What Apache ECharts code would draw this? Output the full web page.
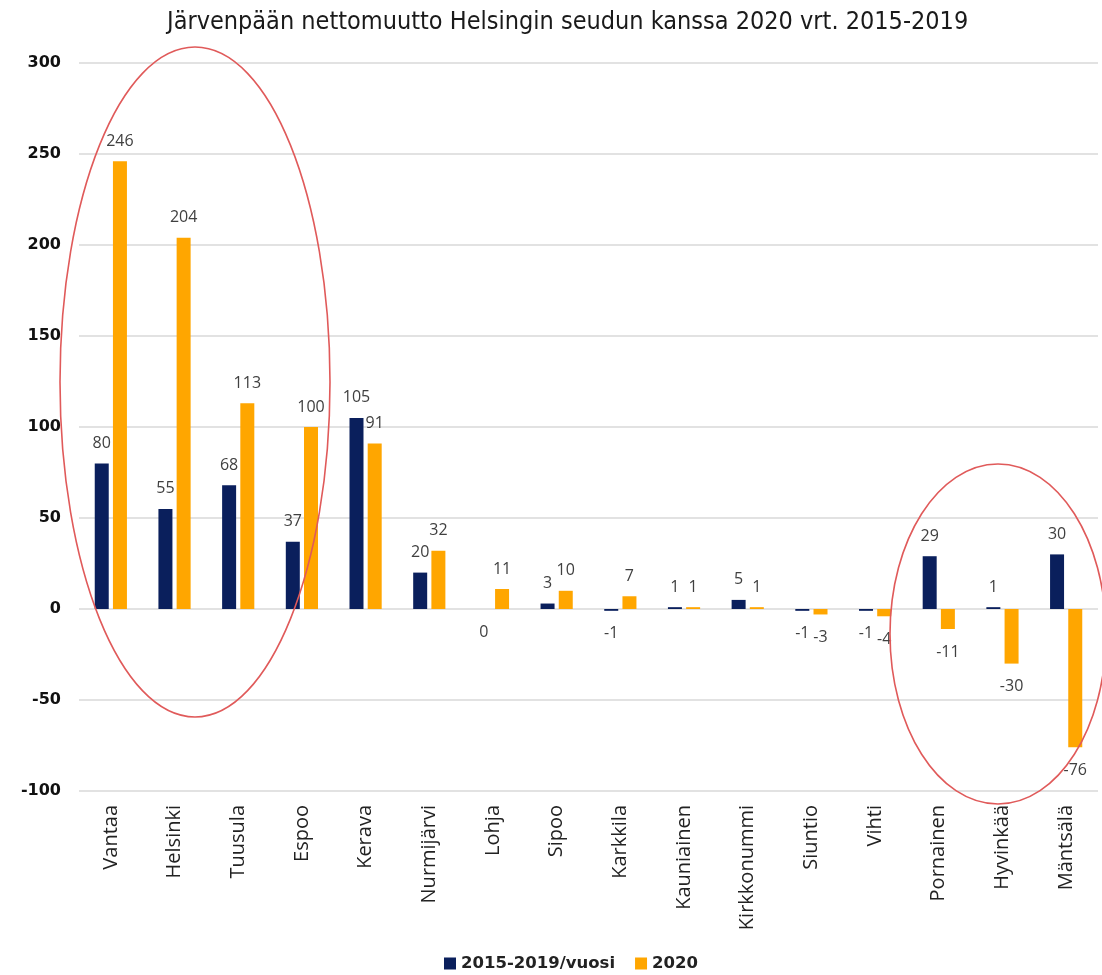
<!DOCTYPE html>
<html><head><meta charset="utf-8">
<script src="https://cdn.jsdelivr.net/npm/echarts@6/dist/echarts.min.js"></script>
<style>html,body{margin:0;padding:0;background:#fff}#c{width:1102px;height:975px}</style>
</head><body><div id="c"></div>
<script>
const categories = ['Vantaa','Helsinki','Tuusula','Espoo','Kerava','Nurmijärvi','Lohja','Sipoo','Karkkila','Kauniainen','Kirkkonummi','Siuntio','Vihti','Pornainen','Hyvinkää','Mäntsälä'];
const avg20152019 = [80,55,68,37,105,20,0,3,-1,1,5,-1,-1,29,1,30];
const year2020 = [246,204,113,100,91,32,11,10,7,1,1,-3,-4,-11,-30,-76];
const yTicks = [-100,-50,0,50,100,150,200,250,300];
const seriesNames = ['2015-2019/vuosi','2020'];

const labelFont = {fontFamily:'Open Sans', fontSize:16, color:'#404040'};
function toData(arr){
  return arr.map(v => ({value:v, label: v<=0 ? {position:'bottom', distance:15} : {position:'top', distance:12}}));
}
const chart = echarts.init(document.getElementById('c'));
chart.setOption({
  animation:false,
  title:{text:'Järvenpään nettomuutto Helsingin seudun kanssa 2020 vrt. 2015-2019', left:162, top:5,
    textStyle:{fontFamily:'DejaVu Sans Condensed', fontSize:25, fontWeight:'normal', color:'#1a1a1a'}},
  grid:{left:79, right:4, top:63, bottom:184},
  legend:{top:950, left:439, itemWidth:12, itemHeight:12, itemGap:20, icon:'rect',
    textStyle:{fontFamily:'DejaVu Sans', fontWeight:'bold', fontSize:16.5, color:'#222'}},
  xAxis:{type:'category', data:categories, axisLine:{show:false}, axisTick:{show:false},
    axisLabel:{rotate:90, margin:14, interval:0, fontFamily:'Open Sans', fontSize:20, color:'#222'}},
  yAxis:{type:'value', min:yTicks[0], max:yTicks[yTicks.length-1], interval:50,
    axisLine:{show:false}, axisTick:{show:false},
    axisLabel:{margin:18, fontFamily:'DejaVu Sans', fontWeight:'bold', fontSize:16, color:'#111'},
    splitLine:{lineStyle:{color:'#d9d9d9', width:1.5}}},
  series:[
    {name:seriesNames[0], type:'bar', data:toData(avg20152019), barWidth:14, barGap:'30%',
     itemStyle:{color:'#0a1f5c'}, label:{show:true, ...labelFont}},
    {name:seriesNames[1], type:'bar', data:toData(year2020), barWidth:14,
     itemStyle:{color:'#ffa600'}, label:{show:true, ...labelFont}}
  ],
  graphic:[
    {type:'ellipse', shape:{cx:195, cy:382, rx:135, ry:335}, style:{fill:'none', stroke:'#e05a5a', lineWidth:1.6}, z:100},
    {type:'ellipse', shape:{cx:998, cy:634, rx:108, ry:170}, style:{fill:'none', stroke:'#e05a5a', lineWidth:1.6}, z:100}
  ]
});
</script></body></html>
